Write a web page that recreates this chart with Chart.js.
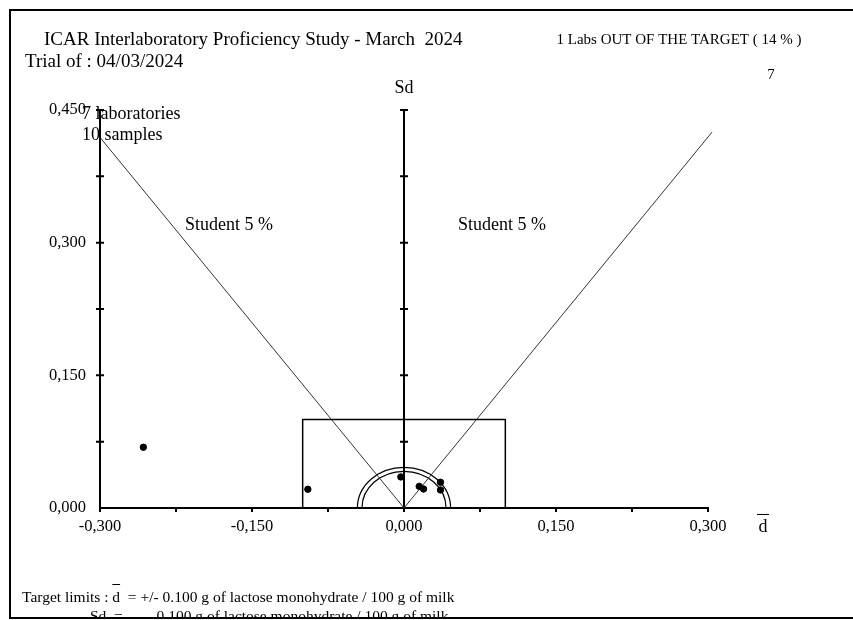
<!DOCTYPE html>
<html>
<head>
<meta charset="utf-8">
<script src="https://cdn.jsdelivr.net/npm/chart.js@4"></script>
<style>
  html, body { margin: 0; padding: 0; background: #fff; }
  #c { display: block; }
</style>
</head>
<body>
<canvas id="c" width="853" height="620"></canvas>
<script>
// lab results: mean difference (d) and standard deviation of differences (Sd)
const labD  = [-0.2572, -0.0949, -0.0031, 0.0150, 0.0193, 0.0360, 0.0360];
const labSd = [ 0.0687,  0.0212,  0.0351, 0.0245, 0.0215, 0.0291, 0.0204];

// target limits box (+/- 0.100 on d, 0.100 on Sd)
const targetD  = [-0.1, -0.1, 0.1, 0.1];
const targetSd = [0, 0.1, 0.1, 0];

// Student 5 % lines through origin
const studentD  = [-0.3, 0, 0.304];
const studentSd = [0.419, 0, 0.425];

// small half circles round the origin
const circleRadii = [0.0415, 0.046];

const xTicks = [-0.3, -0.15, 0, 0.15, 0.3];
const yTicks = [0, 0.15, 0.3, 0.45];

const serif = "'Liberation Serif', 'Times New Roman', serif";
const fmt = v => v.toFixed(3).replace('.', ',');
const zip = (a, b) => a.map((v, i) => ({ x: v, y: b[i] }));

const overlay = {
  id: 'overlay',
  beforeDatasetsDraw(chart) {
    const { ctx, scales: { x, y } } = chart;
    ctx.save();
    ctx.strokeStyle = '#000';
    ctx.lineWidth = 2;
    // central Sd axis
    const cx = x.getPixelForValue(0);
    ctx.beginPath();
    ctx.moveTo(cx, y.getPixelForValue(0));
    ctx.lineTo(cx, y.getPixelForValue(0.45));
    ctx.stroke();
    // minor + major ticks on vertical axes
    const left = x.getPixelForValue(-0.3);
    for (let v = 0.075; v <= 0.4501; v += 0.075) {
      const py = y.getPixelForValue(v);
      ctx.beginPath();
      ctx.moveTo(left - 4, py); ctx.lineTo(left + 4, py);
      ctx.moveTo(cx - 4, py); ctx.lineTo(cx + 4, py);
      ctx.stroke();
    }
    // ticks under x axis
    const by = y.getPixelForValue(0);
    for (let v = -0.3; v <= 0.3001; v += 0.075) {
      const px = x.getPixelForValue(v);
      ctx.beginPath();
      ctx.moveTo(px, by); ctx.lineTo(px, by + 4);
      ctx.stroke();
    }
    // half circles
    ctx.lineWidth = 1.2;
    circleRadii.forEach(r => {
      const rx = x.getPixelForValue(r) - cx;
      const ry = by - y.getPixelForValue(r);
      ctx.beginPath();
      ctx.ellipse(cx, by, rx, ry, 0, Math.PI, 2 * Math.PI);
      ctx.stroke();
    });
    ctx.restore();
  },
  afterDraw(chart) {
    const { ctx, scales: { x, y } } = chart;
    ctx.save();
    ctx.fillStyle = '#000';
    ctx.textBaseline = 'middle';
    const text = (s, px, py, size, align) => {
      ctx.font = size + 'px ' + serif;
      ctx.textAlign = align || 'left';
      ctx.fillText(s, px, py);
    };
    text('ICAR Interlaboratory Proficiency Study - March  2024', 44, 40, 19);
    text('Trial of : 04/03/2024', 25, 62, 19);
    text('1 Labs OUT OF THE TARGET ( 14 % )', 679, 40, 15, 'center');
    text(String(labD.length), 771, 75, 15, 'center');
    text('Sd', x.getPixelForValue(0), 88, 18, 'center');
    text(labD.length + ' laboratories', 82, 114, 18);
    text('10 samples', 82, 135, 18);
    text('Student 5 %', 229, 225, 18, 'center');
    text('Student 5 %', 502, 225, 18, 'center');

    // d-bar axis label
    text('d', 763, 527, 18, 'center');
    ctx.lineWidth = 1;
    ctx.beginPath();
    ctx.moveTo(757, 514.5); ctx.lineTo(769, 514.5);
    ctx.stroke();

    // footer
    ctx.save();
    ctx.beginPath();
    ctx.rect(0, 0, 853, 618);
    ctx.clip();
    ctx.font = '15.5px ' + serif;
    const pre = 'Target limits : d  = +/- ';
    text(pre + '0.100 g of lactose monohydrate / 100 g of milk', 22, 598, 15.5);
    const dx = 22 + ctx.measureText('Target limits : ').width;
    const dw = ctx.measureText('d').width;
    ctx.beginPath();
    ctx.moveTo(dx, 584.5); ctx.lineTo(dx + dw, 584.5);
    ctx.stroke();
    text('Sd  =', 90, 617, 15.5);
    text('0.100 g of lactose monohydrate / 100 g of milk', 22 + ctx.measureText(pre).width - 6, 617, 15.5);
    ctx.restore();

    // frame
    ctx.lineWidth = 2;
    ctx.strokeStyle = '#000';
    ctx.strokeRect(10, 10, 860, 608);
    ctx.restore();
  }
};

new Chart(document.getElementById('c'), {
  type: 'scatter',
  data: {
    datasets: [
      {
        data: zip(labD, labSd),
        backgroundColor: '#000',
        borderColor: '#000',
        pointRadius: 3.2,
        pointHoverRadius: 3.2
      },
      {
        data: zip(targetD, targetSd),
        showLine: true,
        borderColor: '#000',
        borderWidth: 1.5,
        pointRadius: 0,
        fill: false
      },
      {
        data: zip(studentD, studentSd),
        showLine: true,
        clip: false,
        borderColor: '#333',
        borderWidth: 1,
        pointRadius: 0,
        fill: false
      }
    ]
  },
  options: {
    responsive: false,
    animation: false,
    events: [],
    layout: { padding: { left: 40, right: 145, top: 110, bottom: 72 } },
    plugins: {
      legend: { display: false },
      tooltip: { enabled: false }
    },
    scales: {
      x: {
        type: 'linear',
        min: -0.3,
        max: 0.3,
        afterBuildTicks: s => { s.ticks = xTicks.map(v => ({ value: v })); },
        afterFit: s => { s.height = 40; },
        grid: { display: false, drawTicks: false },
        border: { display: true, color: '#000', width: 2 },
        ticks: {
          padding: 9,
          color: '#000',
          font: { family: serif, size: 16.5 },
          maxRotation: 0,
          callback: v => fmt(v)
        }
      },
      y: {
        type: 'linear',
        min: 0,
        max: 0.45,
        afterBuildTicks: s => { s.ticks = yTicks.map(v => ({ value: v })); },
        afterFit: s => { s.width = 60; },
        grid: { display: false, drawTicks: false },
        border: { display: true, color: '#000', width: 2 },
        ticks: {
          padding: 14,
          color: '#000',
          font: { family: serif, size: 16.5 },
          callback: v => fmt(v)
        }
      }
    }
  },
  plugins: [overlay]
});
</script>
</body>
</html>
